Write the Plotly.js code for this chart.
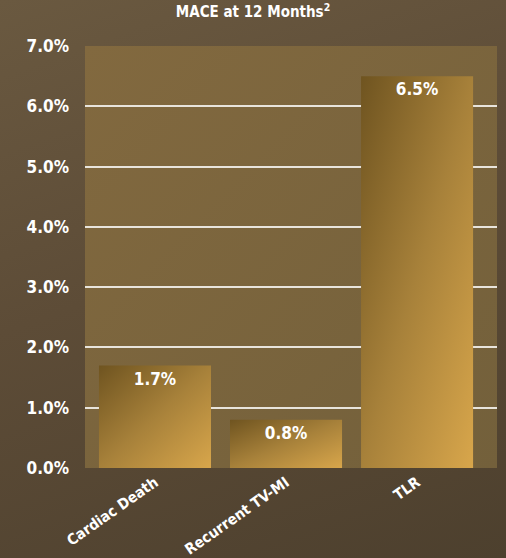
<!DOCTYPE html>
<html>
<head>
<meta charset="utf-8">
<script src="https://cdn.plot.ly/plotly-3.0.1.min.js"></script>
<style>
html,body{margin:0;padding:0;}
body{width:506px;height:558px;background:linear-gradient(160deg,#6a5940 0%,#5d4c37 45%,#4d402e 100%);}
#chart{width:506px;height:558px;}
</style>
</head>
<body>
<div id="chart"></div>
<script>
var categories = ["Cardiac Death", "Recurrent TV-MI", "TLR"];
var values = [1.7, 0.8, 6.5];
var valueLabels = ["1.7%", "0.8%", "6.5%"];
var tickValues = [0, 1, 2, 3, 4, 5, 6, 7];
var tickLabels = ["0.0%", "1.0%", "2.0%", "3.0%", "4.0%", "5.0%", "6.0%", "7.0%"];

var FONT = "'DejaVu Sans Condensed', 'Liberation Sans Narrow', 'Arial Narrow', sans-serif";

var trace = {
  type: "bar",
  x: [0, 1, 2],
  y: values,
  text: valueLabels,
  textposition: "inside",
  insidetextanchor: "end",
  textangle: 0,
  textfont: {family: FONT, size: 17, color: "#ffffff", weight: "bold"},
  marker: {color: "#a8843a", line: {width: 0}},
  width: 0.855,
  hoverinfo: "none",
  cliponaxis: false
};

var layout = {
  width: 506,
  height: 558,
  margin: {l: 85, r: 9, t: 46, b: 90},
  paper_bgcolor: "rgba(0,0,0,0)",
  plot_bgcolor: "#7c673f",
  showlegend: false,
  title: {
    text: "MACE at 12 Months<sup>2</sup>",
    font: {family: FONT, size: 15, color: "#ffffff", weight: "bold"},
    x: 0.5, xanchor: "center", y: 0.988, yanchor: "top"
  },
  xaxis: {
    range: [-0.534, 2.61],
    tickmode: "array",
    tickvals: [0, 1, 2],
    ticktext: categories,
    tickangle: -35,
    tickfont: {family: FONT, size: 15, color: "#ffffff", weight: "bold"},
    showgrid: false, zeroline: false, showline: false, ticks: "",
    ticklabelstandoff: 2,
    fixedrange: true
  },
  yaxis: {
    range: [0, 7],
    tickmode: "array",
    tickvals: tickValues,
    ticktext: tickLabels,
    tickfont: {family: FONT, size: 17, color: "#ffffff", weight: "bold"},
    showgrid: true, gridcolor: "#e8e4dc", gridwidth: 2,
    zeroline: false, showline: false, ticks: "",
    ticklabelstandoff: 15,
    fixedrange: true
  },
  bargap: 0.145
};

Plotly.newPlot("chart", [trace], layout, {displayModeBar: false, staticPlot: true}).then(function(gd){
  var svg = gd.querySelector("svg.main-svg");
  var ns = "http://www.w3.org/2000/svg";
  var defs = svg.querySelector("defs") || svg.insertBefore(document.createElementNS(ns, "defs"), svg.firstChild);
  function grad(id, x1, y1, x2, y2, stops){
    var g = document.createElementNS(ns, "linearGradient");
    g.setAttribute("id", id);
    g.setAttribute("x1", x1); g.setAttribute("y1", y1);
    g.setAttribute("x2", x2); g.setAttribute("y2", y2);
    stops.forEach(function(s){
      var st = document.createElementNS(ns, "stop");
      st.setAttribute("offset", s[0]);
      st.setAttribute("stop-color", s[1]);
      g.appendChild(st);
    });
    defs.appendChild(g);
  }
  grad("barGrad", 0, 0, 1, 1, [[0, "#6f5420"], [0.5, "#a7813a"], [1, "#d8a64b"]]);
  grad("bgGrad", 0, 0, 1, 1, [[0, "#82693f"], [1, "#73603b"]]);
  gd.querySelectorAll(".barlayer .point path").forEach(function(p){
    p.style.fill = "url(#barGrad)";
  });
  var bg = gd.querySelector(".bglayer rect.bg");
  if (bg) bg.style.fill = "url(#bgGrad)";
});
</script>
</body>
</html>
